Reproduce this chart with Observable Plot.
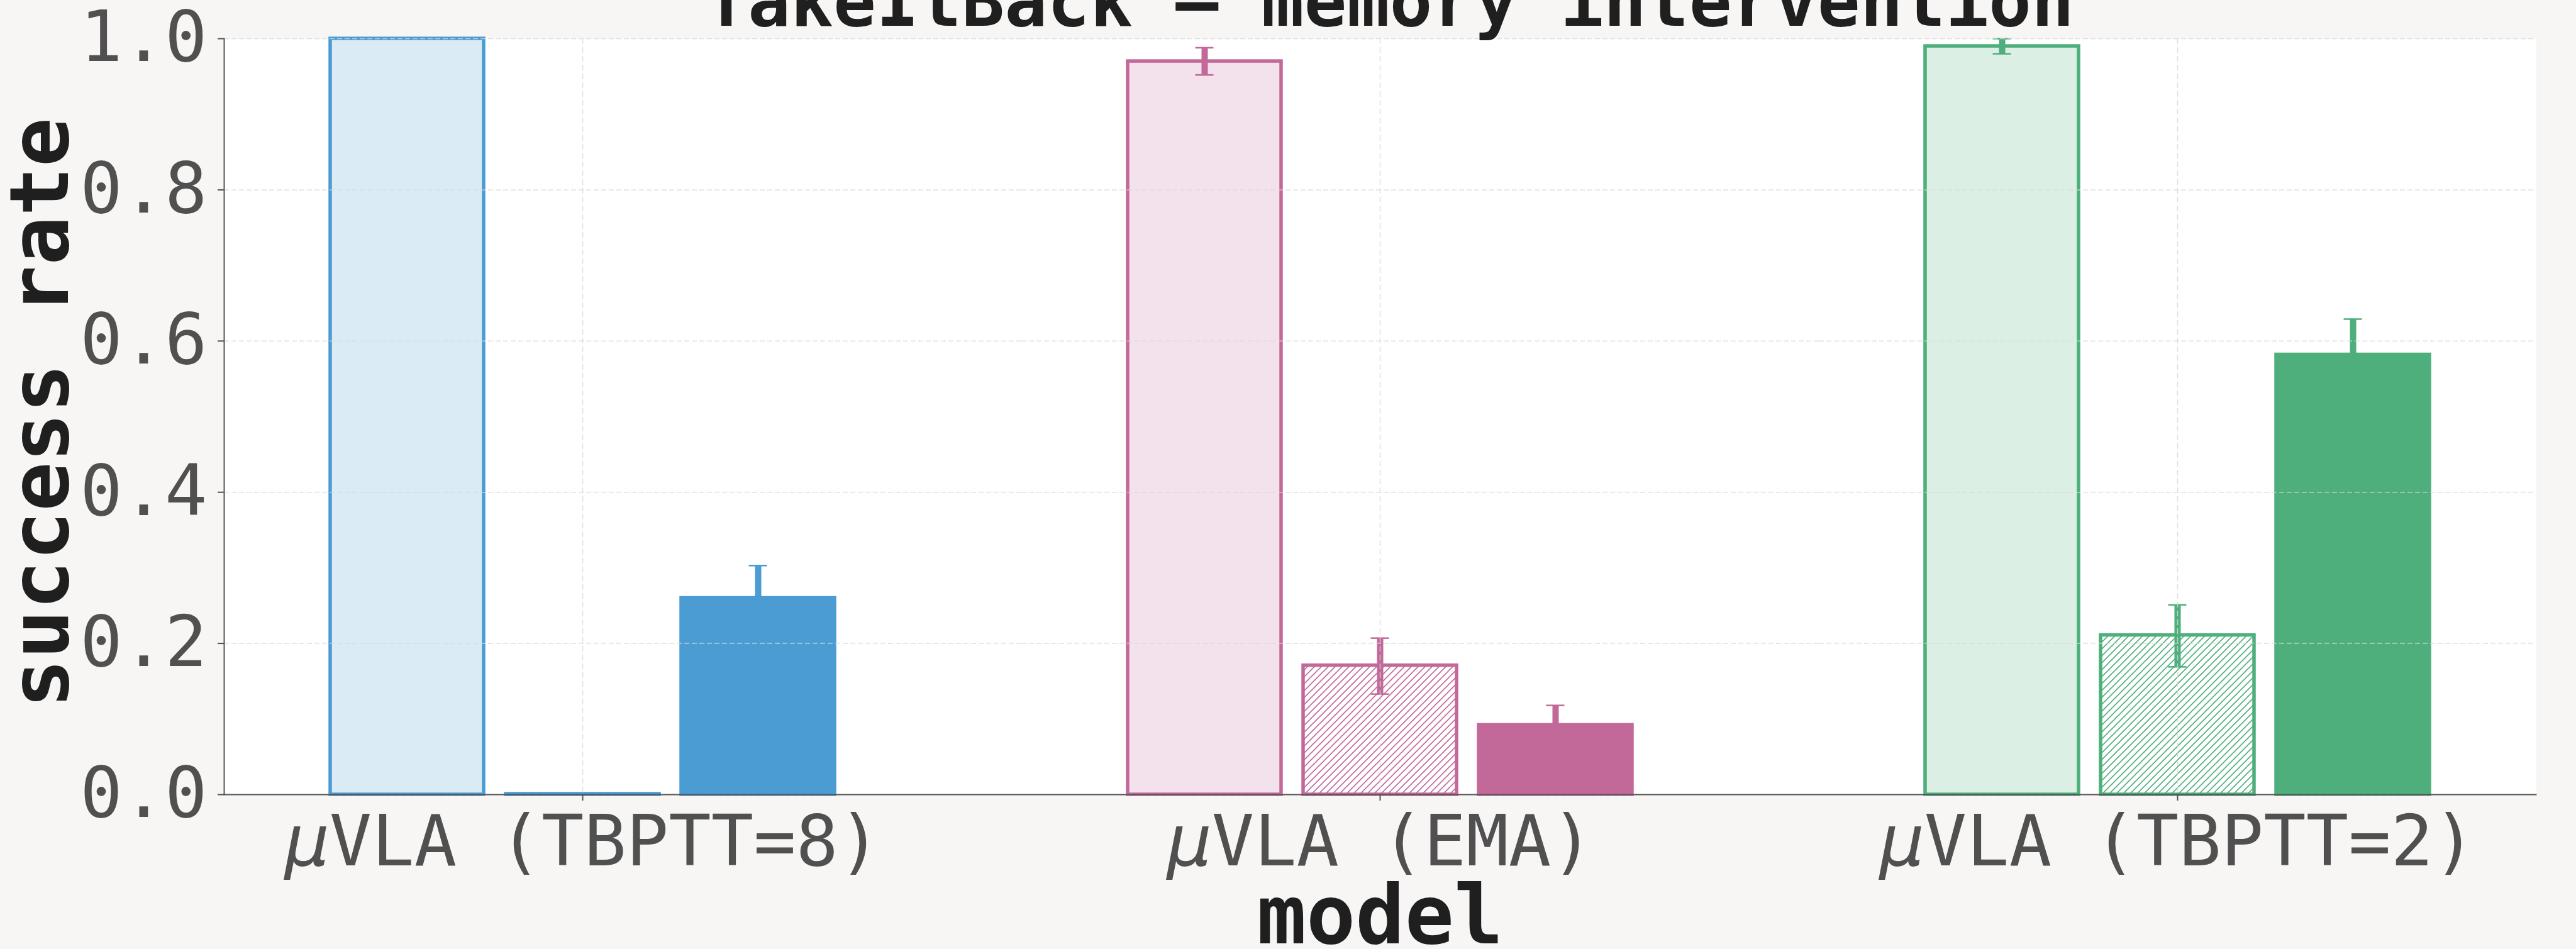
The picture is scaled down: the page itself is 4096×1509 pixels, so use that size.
<!DOCTYPE html>
<html>
<head>
<meta charset="utf-8">
<script src="https://cdn.jsdelivr.net/npm/d3@7"></script>
<script src="https://cdn.jsdelivr.net/npm/@observablehq/plot@0.6"></script>
<style>
  html, body { margin: 0; padding: 0; background: #f7f6f4; overflow: hidden; }
  #chart svg { display: block; }
</style>
</head>
<body>
<div id="chart"></div>
<script>
// ---- data ----
const models = ["μVLA (TBPTT=8)", "μVLA (EMA)", "μVLA (TBPTT=2)"];
const conditions = ["condition 1", "condition 2", "condition 3"];
const successTBPTT8 = [1.0, 0.0, 0.26];
const successEMA = [0.97, 0.17, 0.092];
const successTBPTT2 = [0.99, 0.21, 0.582];
const errTBPTT8 = [0, 0, 0.043];
const errEMA = [0.018, 0.037, 0.026];
const errTBPTT2 = [0.01, 0.041, 0.047];
const yTicks = [0, 0.2, 0.4, 0.6, 0.8, 1.0];
const modelColors = ["#4a9cd3", "#c2699a", "#4eaf7c"];
const titleText = "TakeItBack — memory intervention";
const xLabel = "model";
const yLabel = "success rate";

// ---- table built from the arrays ----
const seriesValues = [successTBPTT8, successEMA, successTBPTT2];
const seriesErr = [errTBPTT8, errEMA, errTBPTT2];
const rows = models.flatMap((m, i) =>
  conditions.map((c, j) => ({model: m, condition: c, value: seriesValues[i][j], err: seriesErr[i][j]})));
const lightRows = rows.filter(r => r.condition === conditions[0]);
const hatchRows = rows.filter(r => r.condition === conditions[1]);
const solidRows = rows.filter(r => r.condition === conditions[2]);
const errRows = rows.filter(r => r.err > 0);
const gridRows = models.flatMap(m => yTicks.map(t => ({model: m, tick: t})));
const lastModel = models[models.length - 1];

const mono = "'DejaVu Sans Mono', monospace";
const barStroke = 5.5;
const fxPadding = 0.101;
const plotW = 4096 - 355 - 64;
const facetGap = plotW / (models.length - fxPadding) * fxPadding;
const gridStyle = {stroke: "#d8d8d8", strokeOpacity: 0.8, strokeWidth: 1.5};

const chart = Plot.plot({
  width: 4096,
  height: 1509,
  marginLeft: 355,
  marginRight: 64,
  marginTop: 61,
  marginBottom: 246,
  style: {background: "#f7f6f4", fontFamily: mono, overflow: "visible"},
  fx: {domain: models, paddingInner: fxPadding, paddingOuter: 0},
  x: {domain: conditions, paddingInner: 0.125, paddingOuter: 0.599, axis: null},
  y: {domain: [0, 1]},
  color: {domain: models, range: modelColors},
  marks: [
    Plot.frame({fill: "white", stroke: null, facet: "super"}),
    Plot.barY(lightRows, {fx: "model", x: "condition", y: "value", fill: "model", fillOpacity: 0.2, stroke: "model", strokeWidth: barStroke}),
    ...models.map((m, i) => Plot.barY(hatchRows.filter(r => r.model === m), {
      fx: "model", x: "condition", y: "value", insetTop: -1, fill: `url(#hatch-${i})`, stroke: "model", strokeWidth: barStroke
    })),
    Plot.ruleX(errRows, {fx: "model", x: "condition", y1: d => d.value - d.err, y2: d => d.value + d.err, stroke: "model", strokeWidth: 10}),
    Plot.tickY(errRows, {fx: "model", x: "condition", y: d => d.value - d.err, stroke: "model", strokeWidth: 2.5, insetLeft: 107.5, insetRight: 107.5}),
    Plot.tickY(errRows, {fx: "model", x: "condition", y: d => d.value + d.err, stroke: "model", strokeWidth: 2.5, insetLeft: 107.5, insetRight: 107.5}),
    Plot.barY(solidRows, {fx: "model", x: "condition", y: "value", fill: "model", stroke: "model", strokeWidth: barStroke}),
    Plot.ruleY(gridRows.filter(d => d.model !== lastModel), {fx: "model", y: "tick", insetRight: -facetGap, ...gridStyle, strokeDasharray: "8,4"}),
    Plot.ruleY(gridRows.filter(d => d.model === lastModel), {fx: "model", y: "tick", ...gridStyle, strokeDasharray: "8,4"}),
    Plot.gridFx({...gridStyle, strokeDasharray: "9,5"}),
    Plot.frame({anchor: "bottom", facet: "super", stroke: "#555", strokeWidth: 2}),
    Plot.frame({anchor: "left", facet: "super", stroke: "#555", strokeWidth: 2}),
    Plot.axisY({ticks: yTicks, tickFormat: d3.format(".1f"), tickSize: 10, tickPadding: 17, fontSize: 112, color: "#505050", strokeWidth: 2, label: null}),
    Plot.axisFx({anchor: "bottom", tickSize: 10, tickPadding: 23, fontSize: 112, color: "#505050", strokeWidth: 2, label: null}),
    Plot.text([titleText], {facet: "super", frameAnchor: "top", text: d => d, textAnchor: "middle", lineAnchor: "bottom", dy: -21, dx: 15, fontSize: 113, fontWeight: "bold", fill: "#1f1f1f"}),
    Plot.text([xLabel], {facet: "super", frameAnchor: "bottom", text: d => d, textAnchor: "middle", lineAnchor: "bottom", dy: 236, fontSize: 130, fontWeight: "bold", fill: "#1f1f1f"}),
    Plot.text([yLabel], {facet: "super", frameAnchor: "left", text: d => d, textAnchor: "middle", rotate: -90, lineAnchor: "bottom", dx: -249, dy: -6, fontSize: 130, fontWeight: "bold", fill: "#1f1f1f"})
  ]
});

// hatch patterns
const svg = d3.select(chart);
const defs = svg.insert("defs", ":first-child");
modelColors.forEach((c, i) => {
  const s = 11;
  defs.append("pattern")
    .attr("id", `hatch-${i}`)
    .attr("patternUnits", "userSpaceOnUse")
    .attr("width", s).attr("height", s)
    .append("path")
    .attr("d", `M${-s/4},${s/4} l${s/2},${-s/2} M0,${s} l${s},${-s} M${s*3/4},${s*5/4} l${s/2},${-s/2}`)
    .attr("stroke", c).attr("stroke-width", 1.6).attr("fill", "none");
});

// italic μ in tick labels (as in mathtext)
svg.selectAll("text").each(function() {
  const t = this.textContent;
  if (t.startsWith("μ") && this.childNodes.length === 1) {
    const el = d3.select(this);
    el.text(null);
    el.append("tspan").attr("font-style", "italic").attr("font-family", "'DejaVu Sans', sans-serif").text("μ");
    el.append("tspan").text(t.slice(1));
  }
});

document.getElementById("chart").appendChild(chart);
</script>
</body>
</html>
